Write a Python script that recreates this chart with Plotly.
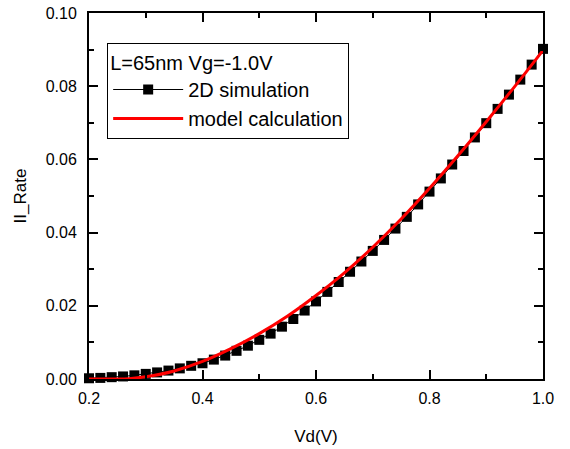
import plotly.graph_objects as go

# 2D simulation data (Vd in V, II_Rate)
sim_vd = [0.20, 0.22, 0.24, 0.26, 0.28, 0.30, 0.32, 0.34, 0.36, 0.38,
          0.40, 0.42, 0.44, 0.46, 0.48, 0.50, 0.52, 0.54, 0.56, 0.58,
          0.60, 0.62, 0.64, 0.66, 0.68, 0.70, 0.72, 0.74, 0.76, 0.78,
          0.80, 0.82, 0.84, 0.86, 0.88, 0.90, 0.92, 0.94, 0.96, 0.98, 1.00]
sim_rate = [0.0002, 0.0003, 0.0005, 0.0007, 0.0010, 0.0014, 0.0018, 0.0023, 0.0029, 0.0036,
            0.0043, 0.0053, 0.0064, 0.0077, 0.0091, 0.0107, 0.0124, 0.0143, 0.0164, 0.0187,
            0.0212, 0.0238, 0.0265, 0.0293, 0.0321, 0.0350, 0.0380, 0.0411, 0.0443, 0.0477,
            0.0512, 0.0548, 0.0586, 0.0623, 0.0660, 0.0699, 0.0738, 0.0777, 0.0818, 0.0859, 0.0902]

# model calculation
model_vd = [0.20, 0.25, 0.27, 0.30, 0.35, 0.40, 0.45, 0.50, 0.55, 0.60,
            0.65, 0.70, 0.75, 0.80, 0.85, 0.90, 0.95, 1.00]
model_rate = [0.0000, 0.0000, 0.0001, 0.0006, 0.0022, 0.0048, 0.0083, 0.0124, 0.0172, 0.0228,
              0.0290, 0.0360, 0.0437, 0.0521, 0.0610, 0.0703, 0.0799, 0.0898]

legend_title = "L=65nm Vg=-1.0V"
font_family = "Liberation Sans, Arial, sans-serif"

fig = go.Figure()
fig.add_trace(go.Scatter(
    x=sim_vd, y=sim_rate, mode="lines+markers", name="2D simulation",
    line=dict(color="black", width=1),
    marker=dict(symbol="square", size=10, color="black"),
    cliponaxis=False,
))
fig.add_trace(go.Scatter(
    x=model_vd, y=model_rate, mode="lines", name="model calculation",
    line=dict(color="#ff0000", width=3, shape="spline"),
    cliponaxis=False,
))

axis_common = dict(
    showline=True, linecolor="black", linewidth=2, mirror="ticks",
    ticks="inside", ticklen=9, tickwidth=1.5, tickcolor="black",
    showgrid=False, zeroline=False, automargin=False,
    tickfont=dict(size=16, color="black", family=font_family),
)

fig.update_xaxes(
    range=[0.2, 1.0], dtick=0.2, tick0=0.2, tickformat=".1f",
    title=dict(text="Vd(V)", font=dict(size=17, color="black", family=font_family), standoff=24),
    minor=dict(ticks="inside", ticklen=5, dtick=0.1, tickcolor="black", tickwidth=1.5),
    ticklabelstandoff=4,
    **axis_common,
)
fig.update_yaxes(
    range=[0, 0.10], dtick=0.02, tickformat=".2f",
    title=dict(text="II_Rate", font=dict(size=17, color="black", family=font_family), standoff=15),
    minor=dict(ticks="inside", ticklen=5, dtick=0.01, tickcolor="black", tickwidth=1.5),
    ticklabelstandoff=7,
    **axis_common,
)

fig.update_layout(
    width=570, height=449,
    margin=dict(l=89, r=27, t=13, b=70),
    paper_bgcolor="white", plot_bgcolor="white",
    font=dict(family=font_family, color="black", size=16),
    showlegend=True,
    legend=dict(
        x=0.04, y=0.918, xanchor="left", yanchor="top",
        bgcolor="white", bordercolor="black", borderwidth=1,
        font=dict(size=20, color="black", family=font_family),
        title=dict(text=legend_title, font=dict(size=20, color="black", family=font_family)),
        tracegroupgap=0, itemwidth=70,
    ),
)

# remove the default page margin so the figure sits at the window origin
fig.write_html("out.html", config={"displayModeBar": False},
               post_script="document.body.style.margin='0';")
